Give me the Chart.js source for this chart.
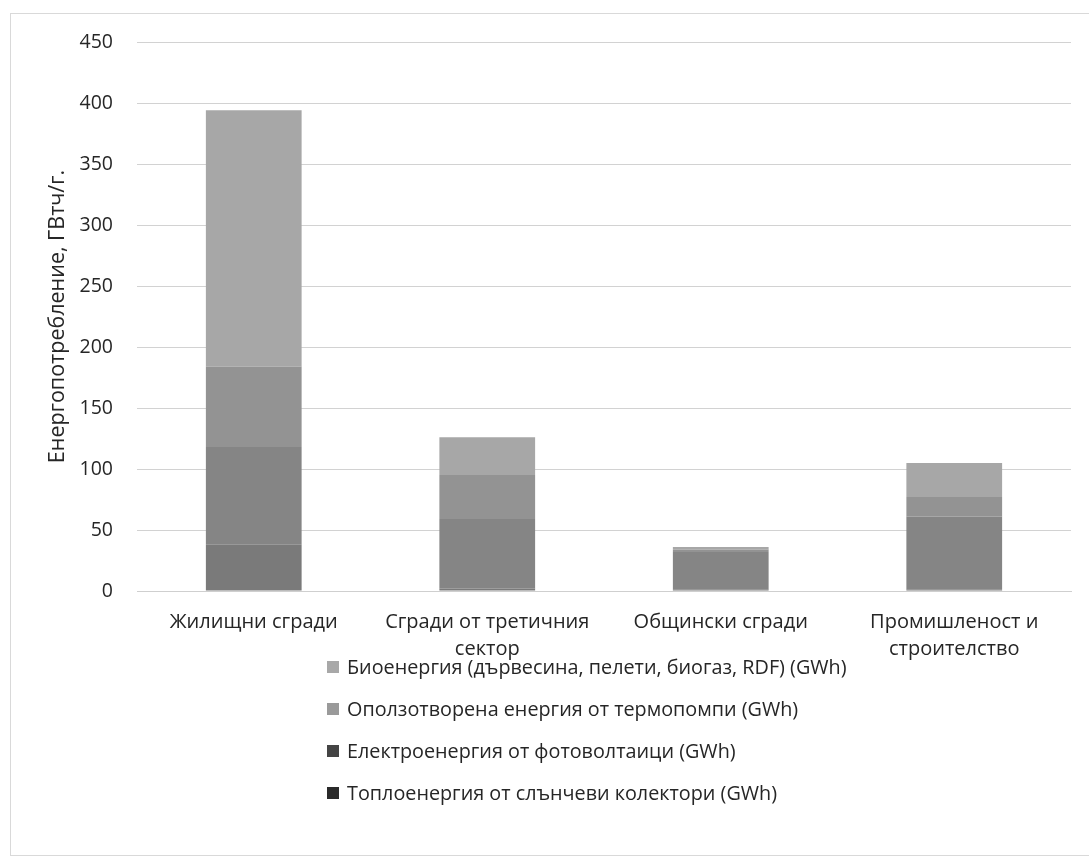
<!DOCTYPE html>
<html>
<head>
<meta charset="utf-8">
<script src="https://cdn.jsdelivr.net/npm/chart.js@4/dist/chart.umd.min.js"></script>
<style>
  body { margin: 0; background: #fff; }
  #wrap { position: relative; width: 1089px; height: 860px; overflow: hidden; }
  #frame { position: absolute; left: 10px; top: 13px; width: 1085px; height: 843px; border: 1px solid #d9d9d9; box-sizing: border-box; }
  canvas { position: absolute; left: 0; top: 0; }
  #legend { position: absolute; left: 327px; top: 652px; font-family: "Open Sans", sans-serif; font-size: 19.8px; color: #262626; }
  #legend div { height: 42px; line-height: 29px; display: flex; align-items: flex-start; white-space: nowrap; }
  #legend span.box { display: inline-block; width: 12px; height: 12px; margin: 9px 8px 0 0; }
</style>
</head>
<body>
<div id="wrap">
  <div id="frame"></div>
  <canvas id="bar-chart" width="1089" height="860"></canvas>
  <div id="legend"></div>
</div>
<script>
// Категории и стойности (GWh), отчетени от графиката
const categories = [
  'Жилищни сгради',
  ['Сгради от третичния', 'сектор'],
  'Общински сгради',
  ['Промишленост и', 'строителство']
];
const seriesNames = [
  'Топлоенергия от слънчеви колектори (GWh)',
  'Електроенергия от фотоволтаици (GWh)',
  'Оползотворена енергия от термопомпи (GWh)',
  'Биоенергия (дървесина, пелети, биогаз, RDF) (GWh)'
];
const solar = [38, 2, 1, 1];
const pv = [80, 57, 31, 60];
const heatPumps = [66, 36, 2, 16];
const bio = [210, 31, 2, 28];
const yTicks = [0, 50, 100, 150, 200, 250, 300, 350, 400, 450];

// Сиви тонове (сканирано изображение)
const barColors = ['#7a7a7a', '#858585', '#939393', '#a7a7a7'];
const legendColors = ['#2a2a2a', '#444444', '#9a9a9a', '#a8a8a8'];

const ctx = document.getElementById('bar-chart').getContext('2d');
const values = [solar, pv, heatPumps, bio];

const chart = new Chart(ctx, {
  type: 'bar',
  data: {
    labels: categories,
    datasets: values.map((v, i) => ({
      label: seriesNames[i],
      data: v,
      backgroundColor: barColors[i],
      borderWidth: 0,
      categoryPercentage: 1,
      barPercentage: 0.41
    }))
  },
  options: {
    responsive: false,
    devicePixelRatio: 1,
    animation: false,
    layout: { padding: { top: 42, right: 18, bottom: 0, left: 0 } },
    plugins: {
      legend: { display: false },
      tooltip: { enabled: false }
    },
    scales: {
      x: {
        stacked: true,
        grid: { display: false },
        border: { color: '#cfcfcf' },
        ticks: {
          color: '#262626',
          padding: 10,
          maxRotation: 0,
          autoSkip: false,
          font: { family: 'Open Sans', size: 20, lineHeight: 1.35 }
        },
        afterFit: s => { s.height = 269; }
      },
      y: {
        stacked: true,
        min: 0,
        max: 450,
        afterBuildTicks: s => { s.ticks = yTicks.map(v => ({ value: v })); },
        grid: { color: '#d2d2d2', drawTicks: false },
        border: { display: false },
        ticks: {
          color: '#262626',
          padding: 24,
          font: { family: 'Open Sans', size: 19.5 }
        },
        title: {
          display: true,
          text: 'Енергопотребление, ГВтч/г.',
          color: '#262626',
          padding: { top: 45, bottom: 0 },
          font: { family: 'Open Sans', size: 21.5 }
        },
        afterFit: s => { s.width = 137; }
      }
    }
  }
});

// Легенда (вертикален списък, най-горната серия първа)
const legendBox = document.getElementById('legend');
for (let i = seriesNames.length - 1; i >= 0; i--) {
  const row = document.createElement('div');
  row.innerHTML = '<span class="box" style="background:' + legendColors[i] + '"></span>' + seriesNames[i];
  legendBox.appendChild(row);
}
</script>
</body>
</html>
